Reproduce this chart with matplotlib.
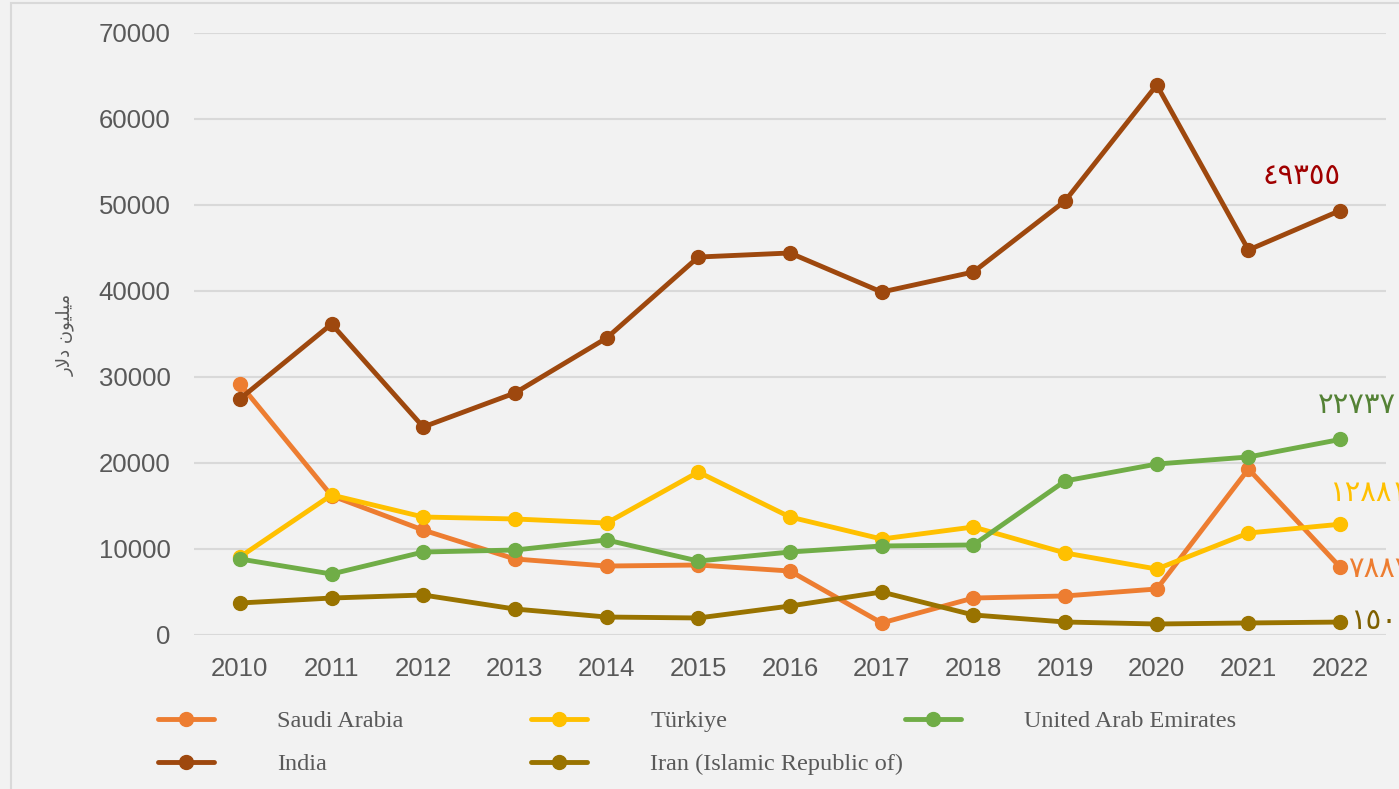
import matplotlib
matplotlib.use("Agg")
import matplotlib.pyplot as plt
from matplotlib.patches import Rectangle

years = [2010, 2011, 2012, 2013, 2014, 2015, 2016, 2017, 2018, 2019, 2020, 2021, 2022]

saudi = [29200, 16200, 12200, 8840, 8020, 8140, 7440, 1400, 4300, 4540, 5350, 19300, 7887]
turkiye = [9070, 16280, 13720, 13490, 13020, 18950, 13720, 11160, 12560, 9540, 7670, 11860, 12881]
uae = [8840, 7090, 9650, 9880, 11050, 8600, 9650, 10350, 10470, 17910, 19880, 20700, 22737]
india = [27440, 36160, 24190, 28140, 34530, 43950, 44420, 39880, 42210, 50470, 63950, 44770, 49355]
iran = [3720, 4300, 4650, 3020, 2090, 1980, 3370, 5000, 2330, 1510, 1280, 1400, 1504]

names = ["Saudi Arabia", "Türkiye", "United Arab Emirates", "India", "Iran (Islamic Republic of)"]
colors = ["#ED7D31", "#FFC000", "#70AD47", "#9E480E", "#997300"]
label_colors = ["#ED7D31", "#FFC000", "#548235", "#A00000", "#7F6000"]
series = [saudi, turkiye, uae, india, iran]

# y axis label, pre-shaped (presentation forms, visual order) since matplotlib has no Arabic shaping
ylabel_text = "\uFEAD\uFEFB\uFEA9 \uFEE5\uFEEE\uFEF4\uFEE0\uFEF4\uFEE3"

arabic_digits = str.maketrans("0123456789", "٠١٢٣٤٥٦٧٨٩")

bg = "#F2F2F2"
fig = plt.figure(figsize=(13.99, 7.89), dpi=100, facecolor=bg)
ax = fig.add_axes([194 / 1399, 154 / 789, 1192 / 1399, 602 / 789])
ax.set_facecolor(bg)

# light frame around the chart area
fig.patches.append(Rectangle((11 / 1399, -0.05), 1.2, 1.05 - 3 / 789,
                             transform=fig.transFigure, fill=False,
                             edgecolor="#D9D9D9", linewidth=1.5))

lines = []
for name, vals, c in zip(names, series, colors):
    ln, = ax.plot(years, vals, color=c, linewidth=3.5, marker="o", markersize=10,
                  label=name, zorder=3, solid_capstyle="round")
    lines.append(ln)

ax.set_xlim(2009.5, 2022.5)
ax.set_ylim(0, 70000)
ax.set_yticks(range(0, 70001, 10000))
ax.set_xticks(years)
ax.grid(axis="y", color="#D9D9D9", linewidth=1.5, zorder=0)
ax.set_axisbelow(True)
for s in ax.spines.values():
    s.set_visible(False)
ax.tick_params(axis="both", length=0, labelsize=18.5, labelcolor="#595959",
               labelfontfamily="Liberation Sans")
ax.tick_params(axis="y", pad=17)
ax.tick_params(axis="x", pad=16)

fig.text(65 / 1399, 1 - 335 / 789, ylabel_text, rotation=90, ha="center", va="center",
         fontsize=13, color="#595959", family=["DejaVu Sans"])

# end labels (value of 2022), Arabic-Indic digits
lab_font = ["Liberation Serif", "DejaVu Sans"]
end_offsets = {
    "India": (-28, 24, "center"),
    "United Arab Emirates": (12, 24, "center"),
    "Türkiye": (20, 22, "center"),
    "Saudi Arabia": (6, -2, "left"),
    "Iran (Islamic Republic of)": (7, 0, "left"),
}
for name, vals, lc in zip(names, series, label_colors):
    dx, dy, ha = end_offsets[name]
    ax.annotate(str(vals[-1]).translate(arabic_digits), (years[-1], vals[-1]),
                xytext=(dx, dy), textcoords="offset points", ha=ha, va="center",
                fontsize=21, color=lc, family=lab_font, annotation_clip=False)

# legend in three columns
col_x = [160, 533, 907]
groups = [[0, 3], [1, 4], [2]]
for cx, g in zip(col_x, groups):
    leg = fig.legend([lines[i] for i in g], [names[i] for i in g],
                     loc="upper left", bbox_to_anchor=((cx - 2) / 1399, 1 - 710 / 789),
                     frameon=False, handlelength=2.3, handletextpad=2.6,
                     labelspacing=0.88, borderaxespad=0, borderpad=0,
                     prop={"family": "Liberation Serif", "size": 17.5})
    for t in leg.get_texts():
        t.set_color("#595959")

fig.savefig("out.png", dpi=100, facecolor=bg)
